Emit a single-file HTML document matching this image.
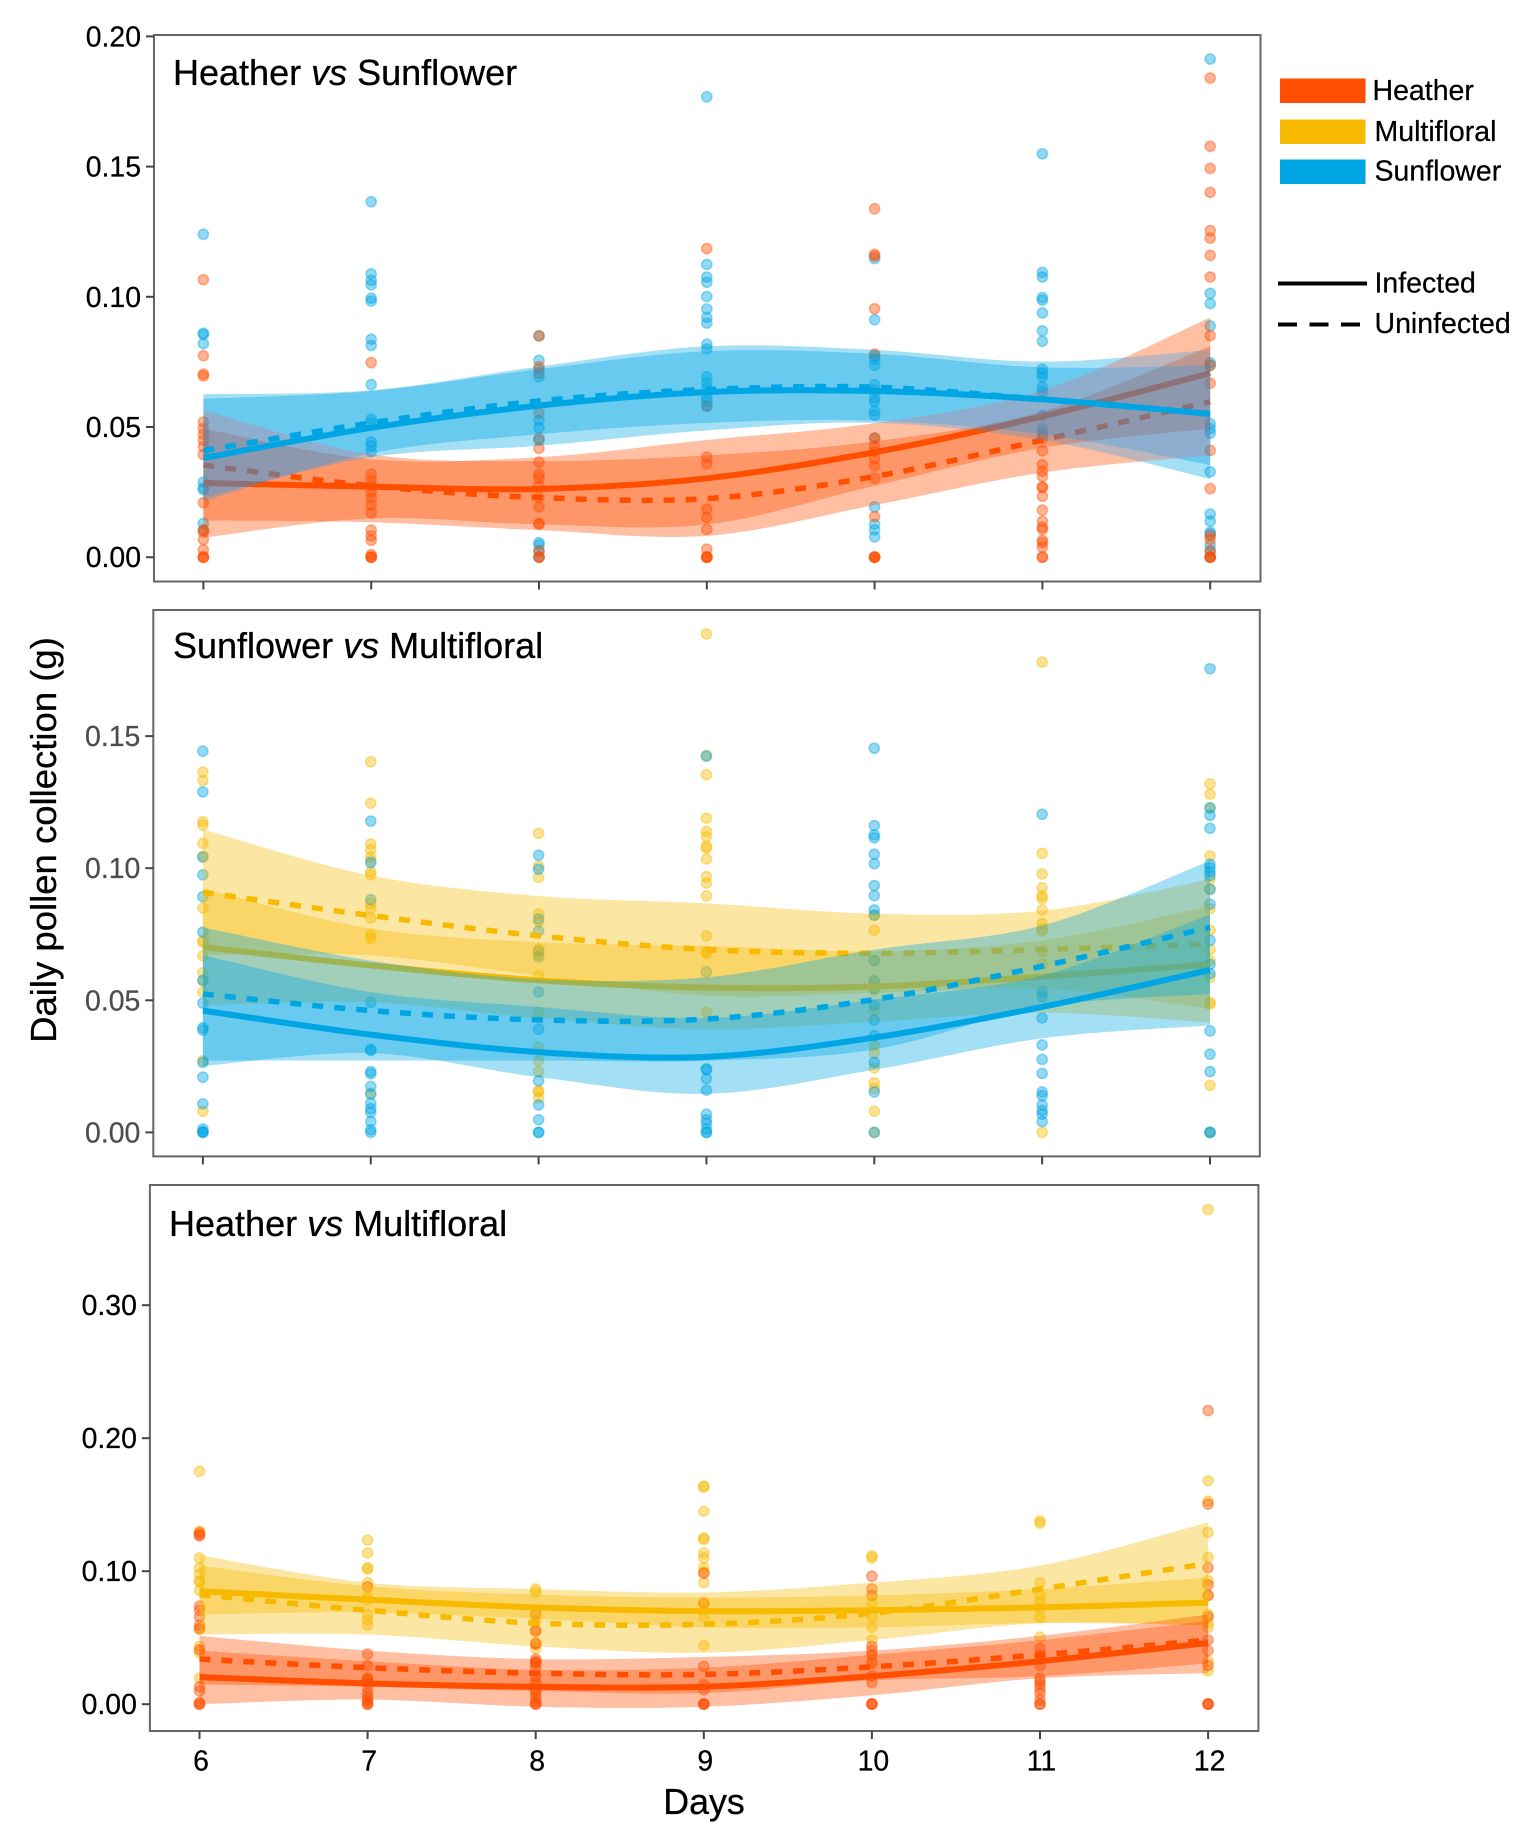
<!DOCTYPE html>
<html lang="en">
<head>
<meta charset="utf-8">
<title>Daily pollen collection</title>
<style>
html,body{margin:0;padding:0;background:#fff;}
svg{display:block;font-family:"Liberation Sans",Arial,sans-serif;}
text{stroke-linejoin:round;}
</style>
</head>
<body>
<svg id="chart" xmlns="http://www.w3.org/2000/svg" width="1526" height="1837" viewBox="0 0 1526 1837">
  <rect x="0" y="0" width="1526" height="1837" fill="#fff"/>
  <defs id="defs"></defs>
  <g id="panels"></g>
  <text transform="translate(56,840) rotate(-90)" text-anchor="middle" font-size="36.5" fill="#000" stroke="#000" stroke-width="0.3">Daily pollen collection (g)</text>
  <text x="704" y="1814" text-anchor="middle" font-size="35.8" fill="#000" stroke="#000" stroke-width="0.3">Days</text>
  <g stroke="#000" stroke-width="0.25">
    <rect x="1280" y="78.5" width="85.5" height="24.5" fill="#FF4E00" stroke="none"/>
    <text x="1372.5" y="100" font-size="28.5">Heather</text>
    <rect x="1280" y="119.5" width="85.5" height="24.5" fill="#F7BA00" stroke="none"/>
    <text x="1374.5" y="141" font-size="28.5">Multifloral</text>
    <rect x="1280" y="159.5" width="85.5" height="24.5" fill="#00A5E3" stroke="none"/>
    <text x="1374.5" y="180.5" font-size="28.5">Sunflower</text>
    <line x1="1278" y1="283.5" x2="1367" y2="283.5" stroke="#000" stroke-width="4"/>
    <text x="1374.5" y="292.5" font-size="28.5">Infected</text>
    <line x1="1278" y1="324.5" x2="1367" y2="324.5" stroke="#000" stroke-width="4" stroke-dasharray="19 12.5"/>
    <text x="1374.5" y="333" font-size="28.5">Uninfected</text>
  </g>
</svg>
<script>
// ---------- shared categories ----------
const days = [6, 7, 8, 9, 10, 11, 12];

// ---------- tick labels ----------
const ticksTop = [0, 0.05, 0.10, 0.15, 0.20];
const ticksMiddle = [0, 0.05, 0.10, 0.15];
const ticksBottom = [0, 0.10, 0.20, 0.30];

// ---------- panel 1: heather vs sunflower ----------
const p1HeatherPoints = [
  [.1066,.0774,.0703,.0696,.0519,.0494,.0472,.045,.0424,.0394,.0209,.0104,.0097,.0068,.0028,0,0,0],
  [.0747,.0318,.0295,.0274,.025,.0228,.02,.017,.0104,.0082,.0065,.001,0,0,0],
  [.085,.0732,.0707,.0553,.0457,.0418,.0365,.0318,.0303,.0274,.0229,.0193,.013,.0126,.0024,0,0],
  [.1185,.058,.0384,.0359,.0185,.0153,.0107,.0031,0,0,0,0],
  [.1338,.1163,.1156,.0954,.078,.0457,.0428,.0406,.0378,.035,.0303,.0156,0,0,0,0],
  [.0457,.0409,.0355,.033,.031,.027,.0267,.0234,.0181,.0138,.0115,.0107,.0065,.0056,.0038,0,0],
  [.184,.1578,.1493,.1401,.1254,.1225,.1159,.1076,.0851,.0737,.0668,.041,.0263,.0082,.0068,.0024,0,0,0]
];
const p1SunflowerPoints = [
  [.124,.086,.0855,.082,.0288,.0266,.0259,.013,.0104],
  [.1365,.1088,.1063,.1046,.0995,.0984,.0837,.0813,.0663,.053,.0516,.0443,.0428,.0406],
  [.085,.0756,.0722,.0693,.0525,.0497,.045,.0056,.0047,.0024,0],
  [.1768,.1124,.1076,.1056,.1001,.0953,.0921,.0899,.0818,.08,.0693,.0671,.0649,.0612,.06,.058],
  [.1147,.0912,.0773,.076,.0737,.0663,.0641,.0612,.0597,.0562,.0546,.0457,.0193,.0127,.0105,.0078],
  [.1549,.1094,.1076,.0997,.0987,.0938,.0869,.0829,.0722,.0707,.0693,.0653,.0634,.0544,.0493,.0472],
  [.1913,.1013,.0974,.0888,.0747,.0737,.0513,.0494,.0476,.0328,.0166,.0138,.0096,.0089,.0046,.0024,0]
];
const p1HeatherInfectedLine = [.0285,.0271,.0262,.0303,.0403,.0541,.0707];
const p1HeatherInfectedUpper = [.0494,.0376,.0384,.045,.0515,.0641,.092];
const p1HeatherInfectedLower = [.0075,.0149,.0126,.0126,.0274,.042,.0494];
const p1HeatherUninfectedLine = [.0354,.0274,.0229,.0225,.031,.045,.0597];
const p1HeatherUninfectedUpper = [.0565,.0395,.0369,.0391,.0445,.056,.081];
const p1HeatherUninfectedLower = [.0141,.0134,.0104,.0082,.02,.0325,.0391];
const p1SunflowerInfectedLine = [.0381,.0497,.0582,.0634,.0638,.0606,.055];
const p1SunflowerInfectedUpper = [.0609,.0638,.0722,.0791,.0781,.0729,.0737];
const p1SunflowerInfectedLower = [.0229,.0384,.0428,.0487,.0516,.045,.03];
const p1SunflowerUninfectedLine = [.0409,.0516,.06,.0644,.0653,.0606,.055];
const p1SunflowerUninfectedUpper = [.0626,.0641,.0732,.081,.0796,.0751,.0796];
const p1SunflowerUninfectedLower = [.0215,.0399,.0472,.0516,.0524,.0472,.0354];

// ---------- panel 2: sunflower vs multifloral ----------
const p2MultifloralPoints = [
  [.1364,.1332,.1176,.1163,.1094,.1045,.0849,.0726,.072,.0668,.0604,.0573,.0531,.0272,.008],
  [.1403,.1246,.1092,.1071,.1043,.1029,.0987,.0975,.0867,.0846,.0811,.0748,.0734,.0146],
  [.1132,.1008,.0965,.0827,.0797,.0693,.0671,.0594,.0454,.0322,.0272,.023,.0159,.0153,.013],
  [.1887,.1427,.1354,.1189,.1139,.1119,.1083,.1076,.1035,.0968,.0944,.0895,.0744,.0684,.0678,.0454],
  [.0822,.0765,.065,.0573,.0538,.0462,.0328,.03,.0244,.0188,.0167,.008,0],
  [.178,.1056,.0978,.0926,.0896,.0885,.0842,.0791,.077,.0762,.0686,.0636,0],
  [.1319,.128,.1228,.1046,.0958,.092,.0846,.0765,.0692,.065,.0587,.0492,.0485,.0178,0]
];
const p2SunflowerPoints = [
  [.1443,.1289,.1042,.0975,.0892,.0758,.0576,.0489,.0396,.0387,.0265,.0209,.0108,.0013,.0003,0,0],
  [.1178,.1021,.0881,.0492,.0314,.031,.023,.0222,.0174,.0146,.0111,.009,.0076,.0041,.001,0],
  [.1049,.0996,.0808,.0762,.0686,.0664,.0531,.0391,.0195,.0104,.0048,0,0],
  [.1424,.0608,.0241,.0237,.0204,.016,.0069,.0048,.0034,.0013,0,0],
  [.1454,.1161,.1126,.1115,.1053,.1017,.0934,.0896,.0842,.0822,.065,.0573,.0545,.0482,.0426,.0366,.0265,.0153,0],
  [.1204,.0532,.0513,.0433,.0331,.0276,.0223,.0153,.0139,.0104,.0083,.0069,.0041],
  [.1755,.1228,.12,.1151,.1015,.1001,.0987,.0972,.092,.0864,.0727,.0636,.0601,.0384,.0296,.023,0,0]
];
const p2SunflowerInfectedLine = [.0461,.037,.0304,.0286,.0359,.0475,.0615];
const p2SunflowerInfectedUpper = [.0671,.0531,.0475,.0433,.0503,.0594,.0825];
const p2SunflowerInfectedLower = [.0251,.03,.0209,.0146,.0237,.0356,.0405];
const p2SunflowerUninfectedLine = [.0524,.0461,.0426,.0429,.0503,.0629,.0776];
const p2SunflowerUninfectedUpper = [.0776,.065,.058,.0587,.0692,.0783,.1028];
const p2SunflowerUninfectedLower = [.0272,.0272,.0272,.0271,.0314,.0475,.0524];
const p2MultifloralInfectedLine = [.0702,.0632,.0576,.0548,.0552,.059,.0636];
const p2MultifloralInfectedUpper = [.0923,.0772,.072,.0706,.0685,.0727,.0856];
const p2MultifloralInfectedLower = [.0481,.0492,.0432,.039,.0419,.0453,.0416];
const p2MultifloralUninfectedLine = [.0909,.0821,.0744,.0692,.0678,.0692,.0713];
const p2MultifloralUninfectedUpper = [.1147,.0972,.0895,.0867,.0828,.0839,.0958];
const p2MultifloralUninfectedLower = [.0671,.067,.0593,.0517,.0528,.0545,.0468];

// ---------- panel 3: heather vs multifloral ----------
const p3MultifloralPoints = [
  [.175,.1099,.1026,.0978,.0927,.092,.0856,.0562,.0435,.0387,.0195,.13],
  [.1233,.1137,.1026,.1016,.0914,.0805,.0783,.0674,.0633,.0594,.0195],
  [.0866,.0843,.069,.062,.0419,.0307,.0147,.0099],
  [.1639,.1633,.145,.1249,.1239,.1137,.1099,.1026,.0994,.0914,.0754,.0652,.0441],
  [.1115,.1099,.0754,.0658,.0578,.0482,.0323],
  [.1377,.1361,.0914,.0818,.077,.0722,.0652,.0505],
  [.3719,.168,.1527,.1291,.1105,.093,.0818,.0674,.061,.0578,.0323,.0249]
];
const p3HeatherPoints = [
  [.129,.1275,.1265,.0738,.0706,.0658,.0594,.0569,.0409,.0131,.0099,.0013,0,0],
  [.0882,.0377,.0291,.0195,.0179,.0163,.0125,.0083,.0055,.0035,.0015,0,0],
  [.0674,.0556,.0546,.046,.045,.0339,.0322,.0307,.0275,.0211,.0165,.0115,.0085,.0051,.0019,0,0],
  [.0984,.076,.0284,.0147,.0109,.0003,0,0],
  [.0962,.0866,.0818,.0435,.0403,.0371,.0307,.0211,.0163,.0003,0,0],
  [.0419,.037,.0339,.0291,.0195,.0171,.0147,.0115,.0083,.0035,0,0],
  [.2208,.1505,.1026,.0898,.0818,.0658,.0482,.0403,.0291,.0003,0,0]
];
const p3MultifloralInfectedLine = [.085,.0786,.0728,.07,.0706,.0728,.0764];
const p3MultifloralInfectedUpper = [.1042,.0888,.0824,.0802,.0818,.0866,.0952];
const p3MultifloralInfectedLower = [.0674,.069,.0642,.0578,.0578,.061,.0594];
const p3MultifloralUninfectedLine = [.0824,.0706,.061,.0601,.0684,.0866,.1058];
const p3MultifloralUninfectedUpper = [.1121,.0914,.0866,.084,.0914,.1042,.1367];
const p3MultifloralUninfectedLower = [.0524,.0524,.0435,.0387,.0482,.061,.0594];
const p3HeatherInfectedLine = [.0204,.0157,.0131,.0131,.0211,.0323,.046];
const p3HeatherInfectedUpper = [.0403,.0323,.0259,.0275,.0371,.0482,.0626];
const p3HeatherInfectedLower = [0,.0035,-.0019,-.0019,.0067,.0195,.0233];
const p3HeatherUninfectedLine = [.0339,.0275,.0233,.0224,.0281,.0371,.0482];
const p3HeatherUninfectedUpper = [.0514,.0403,.0339,.0355,.0403,.0514,.0674];
const p3HeatherUninfectedLower = [.0147,.0131,.0099,.0083,.0179,.0211,.0307];

// ---------- rendering ----------
const NS = 'http://www.w3.org/2000/svg';
const COLORS = { heather: '#FF4E00', multifloral: '#F7BA00', sunflower: '#00A5E3' };
const RIBBON_ALPHA = 0.36;
const OVERLAP_COLOR = '#0A9CFF';

const panels = [
  {
    key: 'top', title: ['Heather ', 'vs', ' Sunflower'], titleX: 173, titleY: 85,
    box: [154, 35, 1260.5, 581.5], x6: 203.4, dayW: 167.8, y0: 557.2, yUnit: 2604,
    ticks: ticksTop, tickColor: '#000', dayLabels: false, overlapAlpha: 0.27,
    points: [['sunflower', p1SunflowerPoints], ['heather', p1HeatherPoints]],
    series: [
      ['heather', 'infected', p1HeatherInfectedLine, p1HeatherInfectedUpper, p1HeatherInfectedLower],
      ['heather', 'uninfected', p1HeatherUninfectedLine, p1HeatherUninfectedUpper, p1HeatherUninfectedLower],
      ['sunflower', 'infected', p1SunflowerInfectedLine, p1SunflowerInfectedUpper, p1SunflowerInfectedLower],
      ['sunflower', 'uninfected', p1SunflowerUninfectedLine, p1SunflowerUninfectedUpper, p1SunflowerUninfectedLower]
    ]
  },
  {
    key: 'middle', title: ['Sunflower ', 'vs', ' Multifloral'], titleX: 173, titleY: 658,
    box: [153.3, 610, 1259.8, 1156.4], x6: 202.9, dayW: 167.85, y0: 1132.4, yUnit: 2642,
    ticks: ticksMiddle, tickColor: '#4d4d4d', dayLabels: false, overlapAlpha: 0,
    points: [['multifloral', p2MultifloralPoints], ['sunflower', p2SunflowerPoints]],
    series: [
      ['multifloral', 'infected', p2MultifloralInfectedLine, p2MultifloralInfectedUpper, p2MultifloralInfectedLower],
      ['multifloral', 'uninfected', p2MultifloralUninfectedLine, p2MultifloralUninfectedUpper, p2MultifloralUninfectedLower],
      ['sunflower', 'infected', p2SunflowerInfectedLine, p2SunflowerInfectedUpper, p2SunflowerInfectedLower],
      ['sunflower', 'uninfected', p2SunflowerUninfectedLine, p2SunflowerUninfectedUpper, p2SunflowerUninfectedLower]
    ]
  },
  {
    key: 'bottom', title: ['Heather ', 'vs', ' Multifloral'], titleX: 169, titleY: 1236,
    box: [149.9, 1185, 1258.4, 1731], x6: 199.5, dayW: 168.1, y0: 1704.2, yUnit: 1330,
    ticks: ticksBottom, tickColor: '#000', dayLabels: true, overlapAlpha: 0,
    points: [['multifloral', p3MultifloralPoints], ['heather', p3HeatherPoints]],
    series: [
      ['multifloral', 'infected', p3MultifloralInfectedLine, p3MultifloralInfectedUpper, p3MultifloralInfectedLower],
      ['multifloral', 'uninfected', p3MultifloralUninfectedLine, p3MultifloralUninfectedUpper, p3MultifloralUninfectedLower],
      ['heather', 'infected', p3HeatherInfectedLine, p3HeatherInfectedUpper, p3HeatherInfectedLower],
      ['heather', 'uninfected', p3HeatherUninfectedLine, p3HeatherUninfectedUpper, p3HeatherUninfectedLower]
    ]
  }
];

function make(tag, attrs, parent) {
  const node = document.createElementNS(NS, tag);
  for (const k in attrs) node.setAttribute(k, attrs[k]);
  parent.appendChild(node);
  return node;
}

// Smooth path segments through the given points (Catmull-Rom to Bezier).
function smooth(pts) {
  let d = '';
  for (let i = 0; i < pts.length - 1; i++) {
    const p0 = pts[Math.max(i - 1, 0)];
    const p1 = pts[i];
    const p2 = pts[i + 1];
    const p3 = pts[Math.min(i + 2, pts.length - 1)];
    const c1x = p1[0] + (p2[0] - p0[0]) / 6;
    const c1y = p1[1] + (p2[1] - p0[1]) / 6;
    const c2x = p2[0] - (p3[0] - p1[0]) / 6;
    const c2y = p2[1] - (p3[1] - p1[1]) / 6;
    d += 'C' + c1x.toFixed(2) + ' ' + c1y.toFixed(2) + ' ' + c2x.toFixed(2) + ' ' + c2y.toFixed(2) + ' ' + p2[0].toFixed(2) + ' ' + p2[1].toFixed(2);
  }
  return d;
}

const root = document.getElementById('panels');
const defs = document.getElementById('defs');

panels.forEach(function (panel) {
  const xScale = function (day) { return panel.x6 + (day - days[0]) * panel.dayW; };
  const yScale = function (value) { return panel.y0 - value * panel.yUnit; };
  const toPts = function (values) { return values.map(function (v, i) { return [xScale(days[i]), yScale(v)]; }); };
  const ribbonPath = function (item) {
    const up = toPts(item[3]);
    const low = toPts(item[4]).reverse();
    return 'M' + up[0][0].toFixed(2) + ' ' + up[0][1].toFixed(2) + smooth(up) +
      'L' + low[0][0].toFixed(2) + ' ' + low[0][1].toFixed(2) + smooth(low) + 'Z';
  };

  const g = make('g', {}, root);
  
  

  const frame = make('rect', {
    x: panel.box[0], y: panel.box[1],
    width: panel.box[2] - panel.box[0], height: panel.box[3] - panel.box[1],
    fill: '#fff'
  }, g);
  
  

  // scatter points
  panel.points.forEach(function (entry) {
    const species = entry[0];
    entry[1].forEach(function (values, dayIndex) {
      values.forEach(function (v) {
        const dot = make('circle', {
          cx: xScale(days[dayIndex]).toFixed(2), cy: yScale(v).toFixed(2), r: 5.1,
          fill: COLORS[species], 'fill-opacity': 0.42,
          stroke: COLORS[species], 'stroke-opacity': 0.4, 'stroke-width': 1.6
        }, g);
        
        
      });
    });
  });

  // where the upper species lies over the lower species its wash reads lighter:
  // build a clip and a mask from the lower species' ribbons
  let clipId = null;
  let maskId = null;
  if (panel.overlapAlpha > 0) {
    clipId = 'clip-' + panel.key;
    maskId = 'mask-' + panel.key;
    const clip = make('clipPath', { id: clipId }, defs);
    const mask = make('mask', { id: maskId, maskUnits: 'userSpaceOnUse', x: 0, y: 0, width: 1526, height: 1837 }, defs);
    make('rect', { x: 0, y: 0, width: 1526, height: 1837, fill: '#fff' }, mask);
    panel.series.slice(0, 2).forEach(function (item) {
      make('path', { d: ribbonPath(item) }, clip);
      make('path', { d: ribbonPath(item), fill: '#000' }, mask);
    });
  }

  // ribbons and lines, species by species
  panel.series.forEach(function (s, index) {
    if (index % 2 !== 0) return;
    const pair = [s, panel.series[index + 1]];
    pair.forEach(function (item) {
      const d = ribbonPath(item);
      const attrs = { d: d, fill: COLORS[item[0]], 'fill-opacity': RIBBON_ALPHA, stroke: 'none' };
      if (index === 2 && maskId) attrs.mask = 'url(#' + maskId + ')';
      const band = make('path', attrs, g);
      
      
      if (index === 2 && clipId) {
        const over = make('path', {
          d: d, fill: OVERLAP_COLOR, 'fill-opacity': panel.overlapAlpha, stroke: 'none',
          'clip-path': 'url(#' + clipId + ')'
        }, g);
        
        
      }
    });
    pair.forEach(function (item) {
      const pts = toPts(item[2]);
      const attrs = {
        d: 'M' + pts[0][0].toFixed(2) + ' ' + pts[0][1].toFixed(2) + smooth(pts),
        fill: 'none', stroke: COLORS[item[0]], 'stroke-width': 6
      };
      if (item[1] === 'uninfected') {
        attrs['stroke-dasharray'] = '11 11';
        attrs['stroke-width'] = 5.5;
      }
      const line = make('path', attrs, g);
      
      
    });
  });

  // frame outline
  const outline = make('rect', {
    x: panel.box[0], y: panel.box[1],
    width: panel.box[2] - panel.box[0], height: panel.box[3] - panel.box[1],
    fill: 'none', stroke: '#666', 'stroke-width': 2
  }, g);
  
  

  // y axis
  panel.ticks.forEach(function (t) {
    const tick = make('line', {
      x1: panel.box[0] - 8, x2: panel.box[0], y1: yScale(t), y2: yScale(t),
      stroke: '#444', 'stroke-width': 2
    }, g);
    
    
    const label = make('text', {
      x: panel.box[0] - 13, y: yScale(t) + 10, 'text-anchor': 'end',
      'font-size': 28.4, fill: panel.tickColor, stroke: panel.tickColor, 'stroke-width': 0.25
    }, g);
    label.textContent = t.toFixed(2);
    
    
  });

  // x axis
  days.forEach(function (day) {
    const tick = make('line', {
      x1: xScale(day), x2: xScale(day), y1: panel.box[3], y2: panel.box[3] + 8,
      stroke: '#444', 'stroke-width': 2
    }, g);
    
    
    if (panel.dayLabels) {
      const label = make('text', {
        x: xScale(day) + 1.5, y: panel.box[3] + 39.5, 'text-anchor': 'middle',
        'font-size': 28.4, fill: '#000', stroke: '#000', 'stroke-width': 0.25
      }, g);
      label.textContent = String(day);
      
      
    }
  });

  // panel title
  const title = make('text', { x: panel.titleX, y: panel.titleY, 'font-size': 36, fill: '#000', stroke: '#000', 'stroke-width': 0.3 }, g);
  
  
  title.setAttribute('xml:space', 'preserve');
  title.style.whiteSpace = 'pre';
  make('tspan', {}, title).textContent = panel.title[0];
  make('tspan', { 'font-style': 'italic' }, title).textContent = panel.title[1];
  make('tspan', {}, title).textContent = panel.title[2];
});
</script>
</body>
</html>
